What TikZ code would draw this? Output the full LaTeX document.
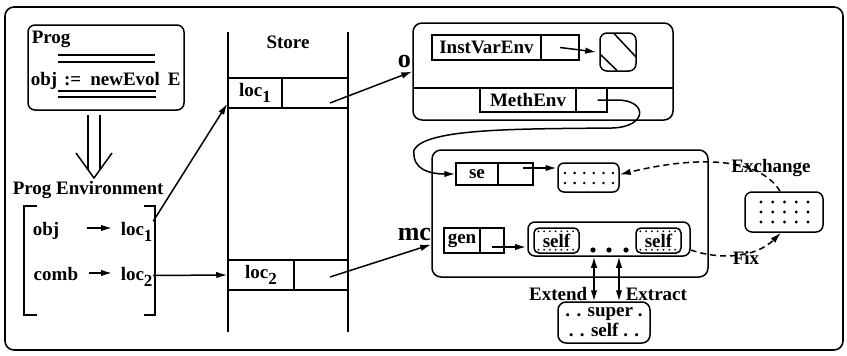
\documentclass[tikz,border=0pt]{standalone}
\usepackage{fontspec}
\setmainfont{Liberation Serif}
\usetikzlibrary{arrows.meta,calc}
\newcommand\lsub[1]{\raisebox{-0.35em}{\fontsize{17}{17}\selectfont #1}}
\begin{document}
\begin{tikzpicture}[x=1pt,y=-1pt,line width=1.5pt,
 every node/.style={inner sep=0pt, font=\fontsize{19}{21}\selectfont\bfseries},
 lbl/.style={anchor=west, text height=13pt, text depth=4pt},
 biglbl/.style={font=\fontsize{26}{28}\selectfont\bfseries},
 cellbox/.style={draw, minimum height=#1},
 rbox/.style={draw, rounded corners=#1},
 arr/.style={-{Latex[length=11pt,width=6.5pt]}},
 darr/.style={{Latex[length=11pt,width=6.5pt]}-{Latex[length=11pt,width=6.5pt]}},
 dsh/.style={dash pattern=on 6pt off 4pt}]
\useasboundingbox (0,0) rectangle (847,356);
\draw[rounded corners=9pt, line width=1.6pt] (5,7) rectangle (843,350);

% Prog box
\node[rbox=7pt, minimum width=156pt, minimum height=85pt] (prog) at (106,67.5) {};
\node[anchor=base west] (progt) at (31,43) {Prog};
\draw (58,55) -- (155,55) (58,62) -- (155,62);
\node[anchor=base west] (stmt) at (30,85) {obj\hspace{7pt}:=\hspace{9pt}newEvol\hspace{8pt}E};
\draw (58,91) -- (156,91) (58,97) -- (156,97);

% implies arrow
\draw (88,115) -- (88,169.5) (100,115) -- (100,169.5);
\draw (76,153) -- (94,178) -- (112,153);

% Prog Environment
\node[anchor=base west] (penv) at (12,194) {Prog Environment};
\draw (37,206) -- (24,206) -- (24,315) -- (37,315);
\draw (144,206) -- (155,206) -- (155,315) -- (144,315);
\node[lbl] (obj) at (32,230.5) {obj};
\node[lbl] (loc1e) at (120,230.5) {loc\lsub{1}};
\node[lbl] (comb) at (33,275.5) {comb};
\node[lbl] (loc2e) at (120,275.5) {loc\lsub{2}};
\draw[arr] ([xshift=27pt,yshift=2.5pt]obj.east) -- ([xshift=-8pt,yshift=2.5pt]loc1e.west);
\draw[arr] ([xshift=10pt,yshift=2.5pt]comb.east) -- ([xshift=-8pt,yshift=2.5pt]loc2e.west);

% Store
\draw (228,32) -- (228,332) (348,32) -- (348,332);
\node[anchor=base] (store) at (288,48) {Store};
\node[cellbox=30pt, minimum width=54pt] (s1a) at (255,93) {loc\lsub{1}};
\node[cellbox=30pt, minimum width=66pt] (s1b) at (315,93) {};
\node[cellbox=30pt, minimum width=66pt] (s2a) at (261,275) {loc\lsub{2}};
\node[cellbox=30pt, minimum width=54pt] (s2b) at (321,275) {};
\draw[arr] (loc1e.north east) -- ([shift={(0,-5)}]s1a.south west);
\draw[arr] (loc2e.east) -- (s2a.west);

% object box
\node[rbox=9pt, minimum width=260pt, minimum height=97pt] (objbox) at (543,71.5) {};
\draw (413,88) -- (673,88);
\node[biglbl, anchor=base west] (olbl) at (397,67) {o};
\node[cellbox=25pt, minimum width=109pt] (ive) at (486.5,47.5) {InstVarEnv};
\node[cellbox=25pt, minimum width=38pt] (ive2) at (560,47.5) {};
\node[rbox=7pt, minimum width=36pt, minimum height=38pt] (hatch) at (618,52) {};
\draw (614,33.5) -- (636,57) (601,55) -- (617,70.5);
\draw[arr] (ive2.center) -- ([xshift=-3pt]hatch.west);
\node[cellbox=24pt, minimum width=96pt] (me) at (528,100) {MethEnv};
\node[cellbox=24pt, minimum width=31pt] (me2) at (591.5,100) {};
\draw[arr] ([shift={(15,10)}]s1b.center) -- (objbox.west);

% mc box
\node[rbox=9pt, minimum width=276pt, minimum height=127pt] (mcbox) at (570,213.5) {};
\node[biglbl, anchor=base west] (mclbl) at (397,240) {mc};
\draw[arr] ([shift={(9,2)}]s2b.center) -- ([shift={(0,31)}]mcbox.west);
\node[cellbox=22pt, minimum width=42pt] (se1) at (477,174) {se};
\node[cellbox=22pt, minimum width=35pt] (se2) at (515.5,174) {};
\node[rbox=6pt, minimum width=61pt, minimum height=29pt] (dot1) at (588.5,177.5) {};
\foreach \i in {0,...,5}{\foreach \j in {0,1}{\fill (565+\i*9.6,173+\j*10) circle (1.4pt);}}
\draw[arr] ([shift={(7,-6)}]se2.center) -- ++(34,0);
\draw[arr] ([xshift=6pt]me2.center) -- (617,100) .. controls (648,100) and (648,127) .. (612,128)
   .. controls (520,129) and (425,128) .. (414,150) .. controls (412,170) and (430,174) .. (se1.west);

\node[cellbox=25pt, minimum width=36pt] (gen1) at (462,240.5) {gen};
\node[cellbox=25pt, minimum width=24pt] (gen2) at (492,240.5) {};
\node[rbox=7pt, minimum width=162pt, minimum height=34pt] (chain) at (609,239) {};
\draw[arr] ([shift={(0,6.5)}]gen2.center) -- ++(34,0);
\node[rbox=5pt, minimum width=45pt, minimum height=25pt] (self1) at (556.5,240.5) {self};
\node[rbox=5pt, minimum width=45pt, minimum height=25pt] (self2) at (658.5,240.5) {self};
\foreach \s in {self1,self2}{
  \foreach \i in {0,...,6}{
    \fill ($(\s.north west)+(5+\i*5.8,4)$) circle (1pt);
    \fill ($(\s.south west)+(5+\i*5.8,-4)$) circle (1pt);}}
\fill (593,250) circle (2.6pt) (609,250) circle (2.6pt) (626,250) circle (2.6pt);

% big dotted box
\node[rbox=7pt, minimum width=78pt, minimum height=40pt] (bigdot) at (784,212) {};
\foreach \i in {0,...,4}{\foreach \j in {0,1,2}{\fill (761+\i*11.75,202+\j*10) circle (1.7pt);}}

% super/self box
\node[rbox=8pt, minimum width=92pt, minimum height=41pt, align=center,
      font=\fontsize{19}{20}\selectfont\bfseries] (super) at (604,322.5) {. . super .\\. . self . .};
\draw[darr] ([xshift=-15pt]chain.south) -- ([xshift=-10pt]super.north);
\draw[darr] ([xshift=10pt]chain.south) -- ([xshift=15pt]super.north);
\node[anchor=base east] (ext) at (588,300) {Extend};
\node[anchor=base west] (extr) at (625,300) {Extract};

% Exchange / Fix
\draw[dsh, arr] ([xshift=-4pt]bigdot.north) .. controls (760,158) and (700,155) .. ([yshift=3pt]dot1.east);
\node (exch) at (771,168) {Exchange};
\draw[dsh, arr] ([yshift=-11pt]chain.east) .. controls (720,260) and (755,258) .. ([xshift=-3pt]bigdot.south);
\node (fix) at (746,258) {Fix};
\end{tikzpicture}
\end{document}
